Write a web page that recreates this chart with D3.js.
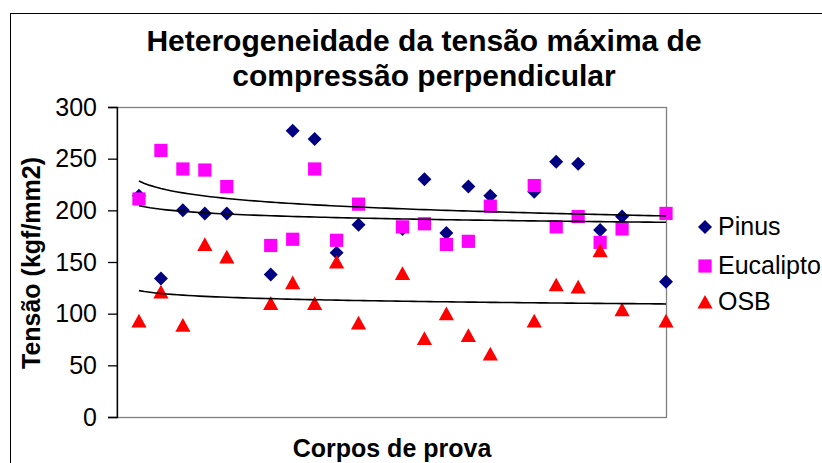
<!DOCTYPE html>
<html>
<head>
<meta charset="utf-8">
<script src="https://d3js.org/d3.v7.min.js"></script>
<style>
  body { margin: 0; background: #fff; }
  text { font-family: Arial, "Liberation Sans", sans-serif; fill: #000; }
</style>
</head>
<body>
<div id="svg"></div>
<script>
// Corpos de prova (as posicoes 6, 12, 18 e 24 ficaram vazias na planilha)
var corpos = [1, 2, 3, 4, 5, 7, 8, 9, 10, 11, 13, 14, 15, 16, 17, 19, 20, 21, 22, 23, 25];

// Tensao maxima (kgf/mm2) de cada serie
var pinus = [214, 134, 200, 197, 197, 138, 277, 269, 159, 186, 182, 230, 178, 223, 214, 218, 247, 245, 181, 194, 131];
var eucalipto = [211, 258, 240, 239, 223, 166, 172, 240, 171, 206, 184, 187, 167, 170, 204, 224, 184, 194, 169, 182, 197];
var osb = [93, 121, 89, 167, 155, 110, 130, 110, 150, 91, 139, 76, 100, 79, 61, 93, 128, 126, 161, 104, 93];

// Linhas de tendencia logaritmicas y = a*ln(x) + b
var tendA = [-10.5, -5.0, -4.0];
var tendB = [228.4, 204.5, 122.3];

var yTicks = [0, 50, 100, 150, 200, 250, 300];
var nomes = ["Pinus", "Eucalipto", "OSB"];
var cores = ["#000080", "#ff00ff", "#ff0000"];

var width = 822;
var height = 463;

var svg = d3.select("#svg").append("svg")
    .attr("width", width)
    .attr("height", height);

svg.append("rect")
    .attr("width", width)
    .attr("height", height)
    .attr("fill", "#fff");

// borda externa do grafico (continua para fora da imagem)
svg.append("rect")
    .attr("x", 10.5).attr("y", 13.5)
    .attr("width", 900).attr("height", 600)
    .attr("fill", "none")
    .attr("stroke", "#000")
    .attr("stroke-width", 1);

var plotLeft = 117, plotRight = 666, plotTop = 107, plotBottom = 417;

var x = d3.scaleLinear().domain([0, 25]).range([plotLeft, plotRight]);
var y = d3.scaleLinear().domain([0, 300]).range([plotBottom, plotTop]);

// area de plotagem
svg.append("rect")
    .attr("x", plotLeft).attr("y", plotTop + 0.5)
    .attr("width", plotRight - plotLeft + 0.5).attr("height", plotBottom - plotTop)
    .attr("fill", "#fff")
    .attr("stroke", "#808080")
    .attr("stroke-width", 1.3);

var eixo = svg.append("g")
    .attr("transform", "translate(" + plotLeft + ",0)")
    .call(d3.axisLeft(y).tickValues(yTicks).tickSize(9).tickPadding(11));

eixo.select(".domain").attr("stroke", "#000").attr("stroke-width", 1.3);
eixo.selectAll(".tick line").attr("stroke", "#000").attr("stroke-width", 1.3);
eixo.selectAll(".tick text")
    .attr("font-size", 25)
    .attr("font-family", "Arial, 'Liberation Sans', sans-serif")
    .attr("fill", "#000");

// marcadores
function losango(s) { return "M0," + (-s) + "L" + s + ",0L0," + s + "L" + (-s) + ",0Z"; }
function quadrado(s) { return "M" + (-s) + "," + (-s) + "H" + s + "V" + s + "H" + (-s) + "Z"; }
function triangulo(s) { return "M0," + (-s) + "L" + (s + 0.5) + "," + (s - 0.5) + "H" + (-s - 0.5) + "Z"; }
var formas = [losango(7), quadrado(6.6), triangulo(7.1)];

var series = [pinus, eucalipto, osb];

series.forEach(function(valores, k) {
    svg.append("g").selectAll("path")
        .data(valores)
        .enter().append("path")
        .attr("transform", function(d, i) { return "translate(" + x(corpos[i]) + "," + y(d) + ")"; })
        .attr("d", formas[k])
        .attr("fill", cores[k]);
});

// linhas de tendencia
var xs = d3.range(1, 25.001, 0.25);
var linha = d3.line()
    .x(function(d) { return x(d[0]); })
    .y(function(d) { return y(d[1]); });

tendA.forEach(function(a, k) {
    svg.append("path")
        .datum(xs.map(function(v) { return [v, a * Math.log(v) + tendB[k]]; }))
        .attr("d", linha)
        .attr("fill", "none")
        .attr("stroke", "#000")
        .attr("stroke-width", 1.6);
});

// titulos
var titulo = svg.append("text")
    .attr("text-anchor", "middle")
    .attr("font-size", 30)
    .attr("font-weight", "bold");
titulo.append("tspan").attr("x", 424).attr("y", 51).text("Heterogeneidade da tensão máxima de");
titulo.append("tspan").attr("x", 424).attr("y", 86).text("compressão perpendicular");

svg.append("text")
    .attr("x", 392).attr("y", 457)
    .attr("text-anchor", "middle")
    .attr("font-size", 25)
    .attr("font-weight", "bold")
    .text("Corpos de prova");

svg.append("text")
    .attr("transform", "translate(40,263) rotate(-90)")
    .attr("text-anchor", "middle")
    .attr("font-size", 25)
    .attr("font-weight", "bold")
    .text("Tensão (kgf/mm2)");

// legenda
var legY = [227, 266, 302];
var leg = svg.append("g").selectAll("g")
    .data(nomes)
    .enter().append("g")
    .attr("transform", function(d, i) { return "translate(705," + legY[i] + ")"; });

leg.append("path")
    .attr("d", function(d, i) { return formas[i]; })
    .attr("fill", function(d, i) { return cores[i]; });

leg.append("text")
    .attr("x", 13)
    .attr("y", 8)
    .attr("font-size", 25)
    .text(function(d) { return d; });
</script>
</body>
</html>
